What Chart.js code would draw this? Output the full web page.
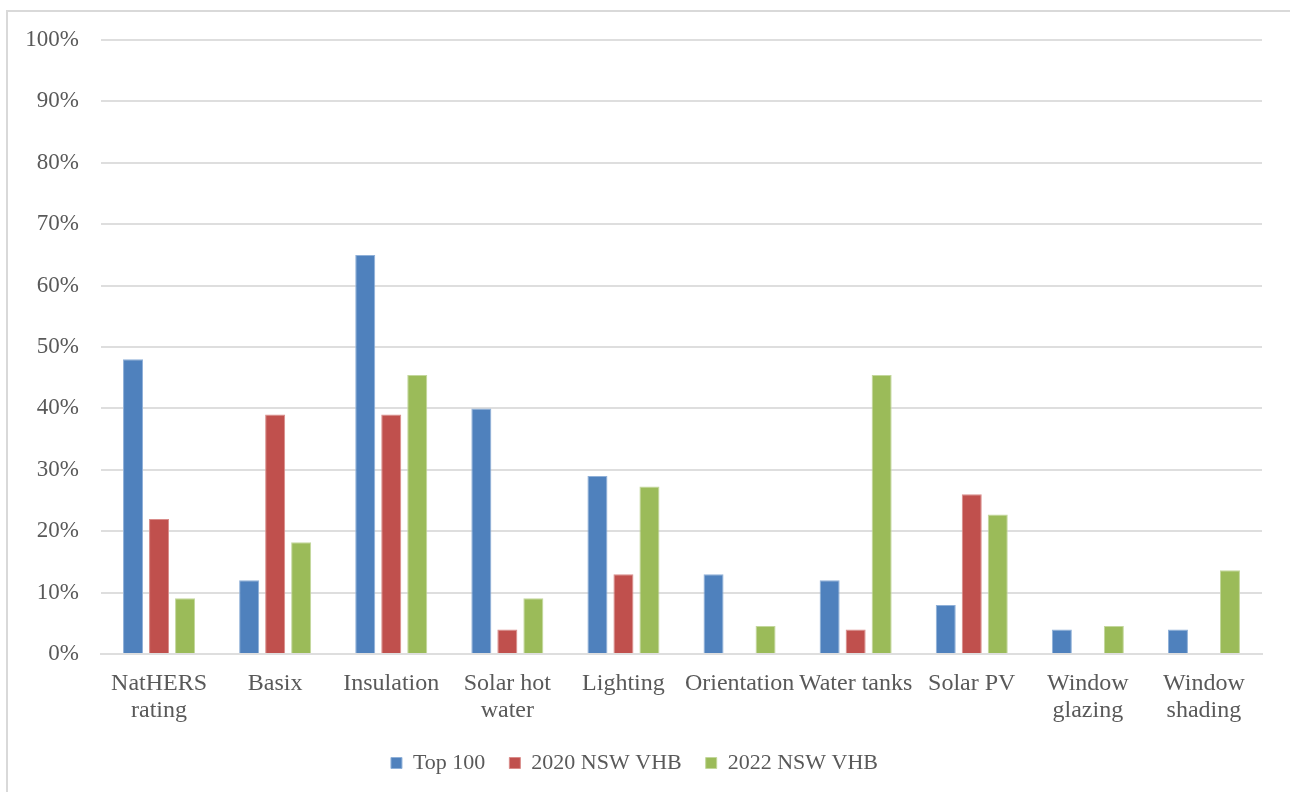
<!DOCTYPE html>
<html>
<head>
<meta charset="utf-8">
<script src="https://cdn.jsdelivr.net/npm/chart.js@4"></script>
<style>
  html, body { margin: 0; padding: 0; background: #ffffff; }
  #wrap { position: absolute; left: 0; top: 0; width: 1290px; height: 792px; }
</style>
</head>
<body>
<div id="wrap"><canvas id="chart" width="1290" height="792"></canvas></div>
<script>
// Categories (multi-line labels where the axis wraps them)
const categories = [
  ["NatHERS", "rating"], "Basix", "Insulation", ["Solar hot", "water"], "Lighting",
  "Orientation", "Water tanks", "Solar PV", ["Window", "glazing"], ["Window", "shading"]
];

// Share of mentions per feature, in percent
const top100   = [48, 12, 65, 40, 29, 13, 12, 8, 4, 4];
const vhb2020  = [22, 39, 39, 4, 13, 0, 4, 26, 0, 0];
const vhb2022  = [9.09, 18.18, 45.45, 9.09, 27.27, 4.55, 45.45, 22.73, 4.55, 13.64];

const seriesNames = ["Top 100", "2020 NSW VHB", "2022 NSW VHB"];
const yTicks = [0, 10, 20, 30, 40, 50, 60, 70, 80, 90, 100];

const FONT = "'Liberation Serif', 'Times New Roman', serif";
const TEXT = "#595959";
const GRID = "#dedede";

// Light frame around the whole chart object
const framePlugin = {
  id: "frame",
  beforeDraw(chart) {
    const c = chart.ctx;
    c.save();
    c.strokeStyle = "#d9d9d9";
    c.lineWidth = 2;
    c.strokeRect(7, 11, 1400, 900);
    c.restore();
  }
};

const mk = (label, data, color, edge) => ({
  label, data,
  backgroundColor: color,
  borderColor: edge,
  borderWidth: 1,
  categoryPercentage: 0.672,
  barPercentage: 0.77
});

new Chart(document.getElementById("chart"), {
  type: "bar",
  data: {
    labels: categories,
    datasets: [
      mk(seriesNames[0], top100,  "#4f81bd", "#8fb0d8"),
      mk(seriesNames[1], vhb2020, "#c0504d", "#d98c8a"),
      mk(seriesNames[2], vhb2022, "#9bbb59", "#c3d79c")
    ]
  },
  options: {
    responsive: false,
    animation: false,
    devicePixelRatio: 1,
    layout: { padding: { left: 7, right: 28, top: 40, bottom: 8 } },
    plugins: {
      legend: {
        position: "bottom",
        labels: {
          font: { family: FONT, size: 22 },
          color: TEXT,
          boxWidth: 11,
          boxHeight: 11,
          padding: 24
        }
      },
      tooltip: { enabled: false }
    },
    scales: {
      x: {
        grid: { display: false, drawTicks: false },
        border: { display: true, color: GRID, width: 2 },
        ticks: {
          font: { family: FONT, size: 24, lineHeight: 1.13 },
          color: TEXT,
          autoSkip: false,
          maxRotation: 0,
          minRotation: 0,
          padding: 16
        },
        afterFit(scale) { scale.height = 74; }
      },
      y: {
        min: 0,
        max: 100,
        afterBuildTicks(scale) { scale.ticks = yTicks.map(v => ({ value: v })); },
        grid: { color: GRID, lineWidth: 2, drawTicks: false },
        border: { display: false },
        ticks: {
          font: { family: FONT, size: 23 },
          color: TEXT,
          padding: 22,
          callback: v => v + "%"
        },
        afterFit(scale) { scale.width = 94; }
      }
    }
  },
  plugins: [framePlugin]
});
</script>
</body>
</html>
